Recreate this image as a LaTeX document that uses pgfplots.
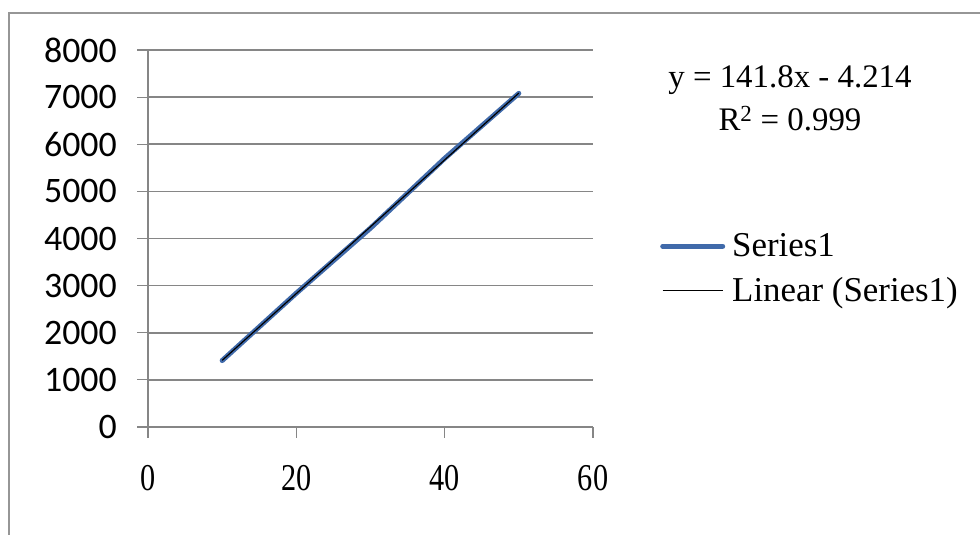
\documentclass[border=0pt]{standalone}
\usepackage{fontspec}
\setmainfont{Liberation Serif}
\newfontfamily\carlito{Carlito}
\usepackage{pgfplots}
\pgfplotsset{compat=1.18}
\definecolor{seriesblue}{RGB}{64,106,170}
\definecolor{gridgray}{RGB}{134,134,134}
\definecolor{framegray}{RGB}{150,150,150}

\begin{document}
\begin{tikzpicture}
  \useasboundingbox (0,0) rectangle (980bp,535bp);
  % outer chart frame (cut off on the right and bottom)
  \draw[line width=2bp, framegray] (9bp,-20bp) |- (1000bp,522bp);
  \begin{axis}[
    at={(148bp,108bp)}, anchor=south west,
    scale only axis, width=445bp, height=377bp,
    clip=false,
    xmin=0, xmax=60, ymin=0, ymax=8000,
    xtick={0,20,40,60},
    ytick={0,1000,...,8000},
    axis x line=bottom, axis y line=left,
    axis line style={-, gridgray, line width=1.6bp},
    ymajorgrids, grid style={gridgray, line width=1.6bp},
    tick align=outside, major tick length=11bp,
    tick style={gridgray, line width=1.2bp},
    /pgf/number format/assume math mode=true,
    /pgf/number format/1000 sep={},
    yticklabel style={font=\carlito\fontsize{36}{40}\selectfont, inner sep=0pt, xshift=-20bp},
    xticklabel style={font=\fontsize{38}{40}\selectfont, inner sep=0pt, xscale=0.8, yshift=-27bp},
    legend style={at={(axis description cs:1.1506,0.4204)}, anchor=west,
      draw=none, fill=none, inner sep=0pt, row sep=19bp,
      font=\fontsize{35}{40}\selectfont,
      nodes={inner sep=0pt},
      /tikz/every odd column/.style={column sep=7bp}},
    legend cell align=left,
    legend image code/.code={\draw[#1] (0bp,0bp) -- (60bp,0bp);},
  ]
    \addplot[seriesblue, line width=5bp, line cap=round, line join=round]
      coordinates {(10,1410) (20,2840) (30,4220) (40,5700) (50,7080)};
    \addlegendentry{Series1}

    \addplot[black, line width=1.2bp]
      coordinates {(10,1413.8) (50,7085.8)};
    \addlegendentry{Linear (Series1)}

    \node[align=center, font=\fontsize{33}{43}\selectfont]
      at (axis description cs:1.4427,0.8714)
      {y = 141.8x - 4.214\\R\textsuperscript{2} = 0.999};
  \end{axis}
\end{tikzpicture}
\end{document}
